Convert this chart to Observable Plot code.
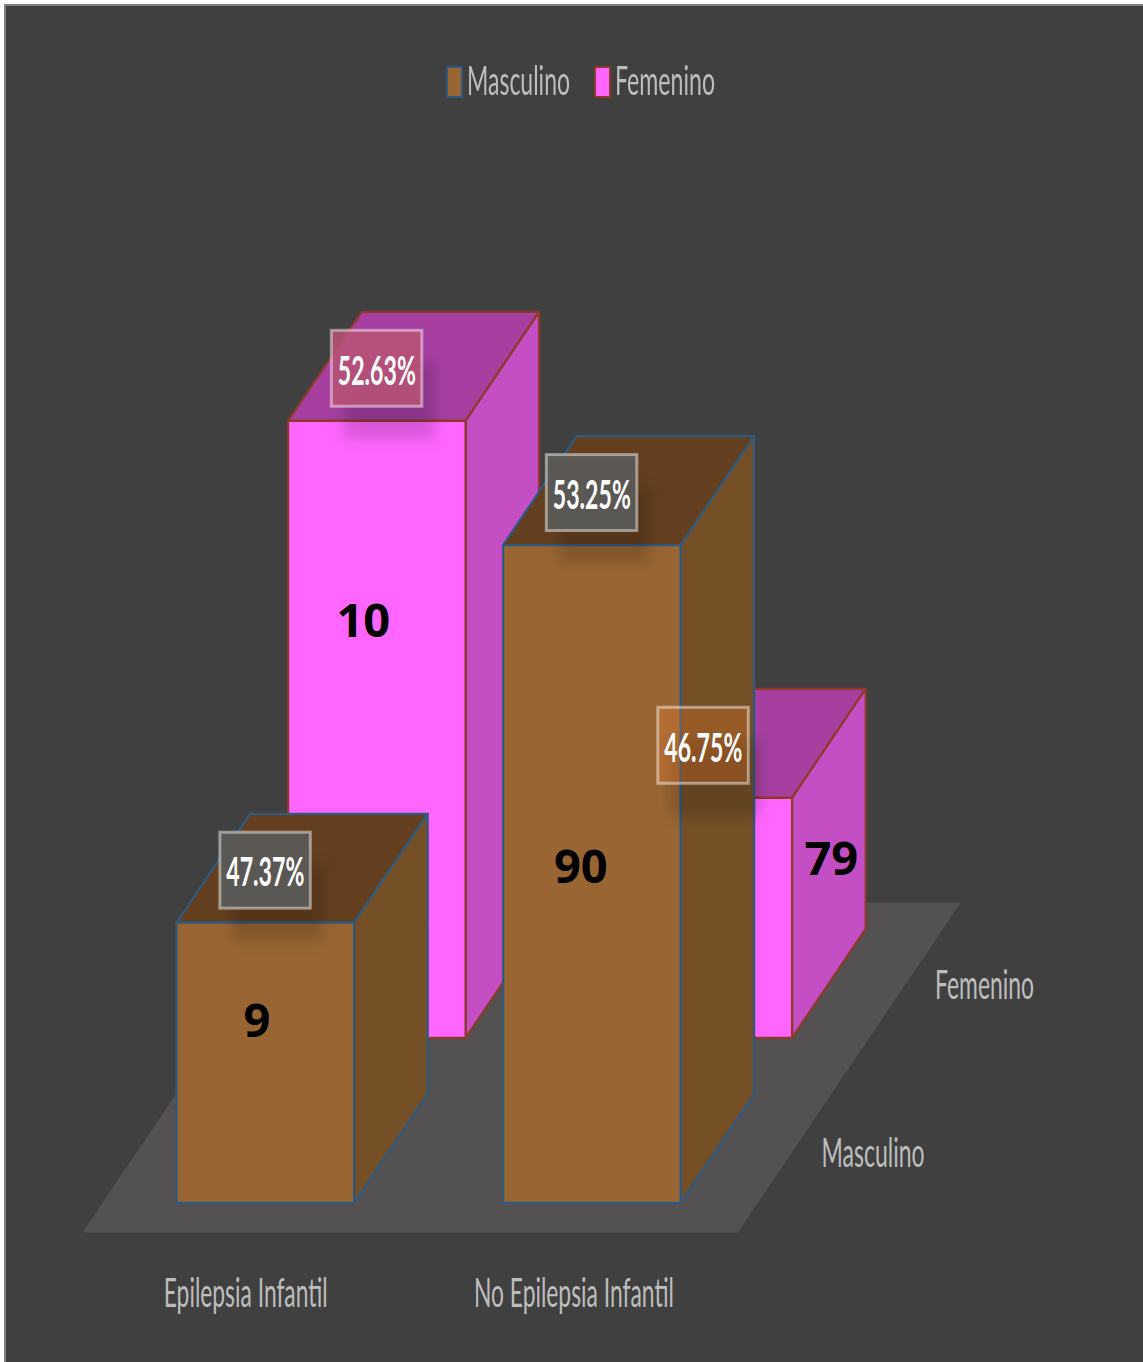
<!DOCTYPE html>
<html lang="es">
<head>
<meta charset="utf-8">
<title>Epilepsia infantil por sexo</title>
<script src="https://cdn.jsdelivr.net/npm/d3@7"></script>
<script src="https://cdn.jsdelivr.net/npm/@observablehq/plot@0.6"></script>
<style>
  html, body { margin: 0; padding: 0; background: #fff; }
  body { width: 1143px; height: 1362px; position: relative; overflow: hidden; }
  #frame { position: absolute; left: 4px; top: 4px; right: 0; bottom: 0; background: #404040;
           border-top: 2px solid #7f7f7f; border-left: 2px solid #7f7f7f; box-sizing: border-box; }
  #legend { position: absolute; left: 0; top: 0; width: 1143px; height: 150px; }
  #legend .swatch { position: absolute; top: 66px; width: 17px; height: 32px; box-sizing: border-box; border-width: 2.5px; border-style: solid; }
  #legend .name { position: absolute; top: 57px; white-space: nowrap; color: #bdbdbd;
                  font: 400 40px/46px Lato, sans-serif; transform-origin: 0 50%; }
  #chart { position: absolute; left: 0; top: 150px; }
  #chart svg { display: block; background: transparent; }
</style>
</head>
<body>
<div id="frame"></div>
<div id="legend"></div>
<div id="chart"></div>
<script>
// Cases by diagnosis and sex
const categories = ["Epilepsia Infantil", "No Epilepsia Infantil"];
const seriesNames = ["Masculino", "Femenino"];
const masculinoCounts = [9, 90];
const femeninoCounts = [10, 79];
const masculinoShares = [47.37, 53.25];
const femeninoShares = [52.63, 46.75];
// Column heights as drawn in this figure; they do not scale with the counts
// printed on the columns, so they are kept as their own series.
const masculinoRise = [45.4, 106.6];
const femeninoRise = [100, 38.9];

// Oblique projection of the 3D scene
const unitX = 326.5;      // pixels per category along the floor
const unitY = 6.17;       // pixels per rise unit
const depthX = 111.5;     // horizontal shift per series row
const depthY = 165;       // vertical shift per series row
const floorLeft = 82, floorBase = 1082;   // floor's front-left corner in the svg
const W = 1143, H = 1212;

const px = (n) => n / unitX;
const py = (n) => n / unitY;
const project = (u, w, h) => ({x: u + w * depthX / unitX, y: h + w * depthY / unitY});

const barInset = 0.2267, barWidth = 0.5436, rowInset = 0.18, barDepth = 0.66;

const palette = {
  Masculino: {front: "#996633", side: "#754f26", top: "#633f1f", edge: "#2f5a80"},
  Femenino:  {front: "#ff66ff", side: "#c44fc4", top: "#a63fa0", edge: "#8e3a2a"}
};

const polygon = (corners) => {
  const pts = corners.map(([u, w, h]) => project(u, w, h));
  return [...pts, pts[0]];
};

const rows = [];
seriesNames.forEach((name, s) => {
  const counts = s === 0 ? masculinoCounts : femeninoCounts;
  const shares = s === 0 ? masculinoShares : femeninoShares;
  const rises = s === 0 ? masculinoRise : femeninoRise;
  categories.forEach((cat, c) => {
    rows.push({series: name, s, category: cat, c, count: counts[c], share: shares[c], rise: rises[c]});
  });
});

// Back row first so the nearer columns cover it
const drawOrder = [...rows].sort((a, b) => d3.descending(a.s, b.s) || d3.ascending(a.c, b.c));

const columnMarks = drawOrder.flatMap((d) => {
  const u0 = d.c + barInset, u1 = u0 + barWidth;
  const w0 = d.s + rowInset, w1 = w0 + barDepth;
  const h = d.rise;
  const colors = palette[d.series];
  const face = (corners, fill) => Plot.line(polygon(corners), {
    x: "x", y: "y", fill, stroke: colors.edge, strokeWidth: 2.2, strokeLinejoin: "round", curve: "linear"
  });
  return [
    face([[u0, w0, h], [u1, w0, h], [u1, w1, h], [u0, w1, h]], colors.top),
    face([[u1, w0, 0], [u1, w1, 0], [u1, w1, h], [u1, w0, h]], colors.side),
    face([[u0, w0, 0], [u1, w0, 0], [u1, w0, h], [u0, w0, h]], colors.front)
  ];
});

const floorMark = Plot.line(
  polygon([[0, 0, 0], [2.007, 0, 0], [2.007, 2, 0], [0, 2, 0]]),
  {x: "x", y: "y", fill: "#535152", stroke: "none", curve: "linear"}
);

// Percentage tags, centred above each column's front face
const tagStyle = {
  "Epilepsia Infantil|Masculino": {fill: "#5b5a56", opacity: 0.96},
  "Epilepsia Infantil|Femenino": {fill: "#b95477", opacity: 0.85},
  "No Epilepsia Infantil|Masculino": {fill: "#5b5a56", opacity: 0.96},
  "No Epilepsia Infantil|Femenino": {fill: "#ff7e2f", opacity: 0.25}
};
const tags = rows.map((d) => {
  const front = project(d.c + barInset + barWidth / 2, d.s + rowInset, d.rise);
  const cy = front.y + py(52);
  const style = tagStyle[d.category + "|" + d.series];
  return {
    ...d, ...style,
    cx: front.x, cy,
    x1: front.x - px(45), x2: front.x + px(45.5),
    y1: cy - py(38), y2: cy + py(38),
    sx1: front.x - px(32.5), sx2: front.x + px(58.5),
    sy1: cy - py(71), sy2: cy + py(5),
    label: d.share.toFixed(2) + "%"
  };
});

// Pixel nudges for the count labels relative to the middle of each front face
const countNudge = {
  "Epilepsia Infantil|Masculino": [-8.5, -40.5],
  "Epilepsia Infantil|Femenino": [-13.5, -107],
  "No Epilepsia Infantil|Masculino": [-11, -5.5],
  "No Epilepsia Infantil|Femenino": [128, -58]
};
const countMarks = rows.map((d) => {
  const mid = project(d.c + barInset + barWidth / 2, d.s + rowInset, d.rise / 2);
  const [dx, dy] = countNudge[d.category + "|" + d.series];
  return Plot.text([{...mid, label: String(d.count)}], {
    x: "x", y: "y", text: "label", dx, dy, fill: "#000",
    fontFamily: "'Open Sans', sans-serif", fontWeight: 700, fontSize: 47
  });
});

// Axis labels under the floor and along its right-hand edge
const categoryLabels = categories.map((name, c) => ({
  name, x: c * 1.005 + 0.5, y: -py(62)
}));
const seriesLabels = seriesNames.map((name, s) => {
  const p = project(2.007, s + 0.5, 0);
  return {name, x: p.x + px(79.5), y: p.y - py(s === 0 ? 4 : 1)};
});
const axisFont = {fontFamily: "Lato, sans-serif", fontWeight: 400, fontSize: 40, fill: "#bdbdbd"};

const xDomain = [-floorLeft / unitX, (W - floorLeft) / unitX];
const yDomain = [-(H - floorBase) / unitY, floorBase / unitY];

const figure = Plot.plot({
  width: W, height: H,
  marginTop: 0, marginRight: 0, marginBottom: 0, marginLeft: 0,
  style: {background: "transparent"},
  x: {axis: null, domain: xDomain, range: [0, W]},
  y: {axis: null, domain: yDomain, range: [H, 0]},
  marks: [
    floorMark,
    ...columnMarks,
    Plot.rect(tags, {x1: "sx1", x2: "sx2", y1: "sy1", y2: "sy2", fill: "#000", fillOpacity: 0.15, imageFilter: "blur(7px)"}),
    ...tags.map((t) => Plot.rect([t], {
      x1: "x1", x2: "x2", y1: "y1", y2: "y2",
      fill: t.fill, fillOpacity: t.opacity,
      stroke: "#fff", strokeOpacity: 0.45, strokeWidth: 3
    })),
    Plot.text(tags, {
      x: "cx", y: "cy", text: "label", dy: 3, fill: "#fff",
      fontFamily: "Lato, sans-serif", fontWeight: 700, fontSize: 40
    }),
    ...countMarks,
    Plot.text(categoryLabels, {x: "x", y: "y", text: "name", ...axisFont}),
    Plot.text(seriesLabels, {x: "x", y: "y", text: "name", ...axisFont})
  ]
});
document.getElementById("chart").appendChild(figure);

// The chart's type is set very condensed: squeeze each string to its set width
const textWidths = {
  "Masculino": 103, "Femenino": 99,
  "Epilepsia Infantil": 164, "No Epilepsia Infantil": 200
};
d3.select(figure).selectAll("text").each(function () {
  const label = this.textContent;
  const width = textWidths[label] ?? (label.endsWith("%") ? 78 : null);
  if (width) {
    d3.select(this).attr("textLength", width).attr("lengthAdjust", "spacingAndGlyphs");
    d3.select(this).selectAll("tspan").attr("textLength", width).attr("lengthAdjust", "spacingAndGlyphs");
  }
});

// Legend
const legend = d3.select("#legend");
[{name: "Masculino", at: 446}, {name: "Femenino", at: 594}].forEach(({name, at}) => {
  legend.append("div").attr("class", "swatch").style("left", at + "px")
    .style("background", palette[name].front).style("border-color", palette[name].edge);
  const span = legend.append("div").attr("class", "name").style("left", (at + 21) + "px").text(name);
  const target = name === "Masculino" ? 103 : 100;
  span.style("transform", `scaleX(${target / span.node().getBoundingClientRect().width})`);
});
</script>
</body>
</html>
